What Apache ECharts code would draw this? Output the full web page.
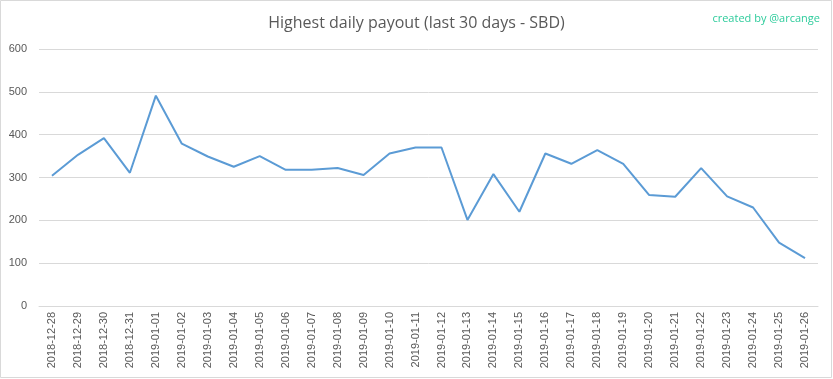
<!DOCTYPE html>
<html><head><meta charset="utf-8">
<script src="https://cdn.jsdelivr.net/npm/echarts@6/dist/echarts.min.js"></script>
<style>html,body{margin:0;padding:0;background:#fff}#c{width:833px;height:379px;box-sizing:border-box;}</style>
</head><body><div id="c"></div>
<script>
const categories = ["2018-12-28","2018-12-29","2018-12-30","2018-12-31","2019-01-01","2019-01-02","2019-01-03","2019-01-04","2019-01-05","2019-01-06","2019-01-07","2019-01-08","2019-01-09","2019-01-10","2019-01-11","2019-01-12","2019-01-13","2019-01-14","2019-01-15","2019-01-16","2019-01-17","2019-01-18","2019-01-19","2019-01-20","2019-01-21","2019-01-22","2019-01-23","2019-01-24","2019-01-25","2019-01-26"];
const payout = [304,353,392,311,491,379,349,325,350,318,318,322,306,356,370,370,201,308,220,356,332,364,332,259,255,322,256,230,148,112];
const titleText = "Highest daily payout (last 30 days - SBD)";
const creditText = "created by @arcange";

const chart = echarts.init(document.getElementById('c'), null, {renderer:'canvas'});
chart.setOption({
  animation:false,
  backgroundColor:'#fff',
  title:[
    {text:titleText,left:'center',top:10,textStyle:{fontFamily:'Open Sans',fontSize:16,fontWeight:'normal',color:'#595959'}},
    {text:creditText,right:8,top:8,textStyle:{fontFamily:'Open Sans',fontSize:11,fontWeight:'normal',color:'#2ecc9c'}}
  ],
  graphic:[{type:'rect',shape:{x:0.5,y:0.5,width:831,height:377},style:{fill:'none',stroke:'#d9d9d9',lineWidth:1},silent:true}],
  grid:{left:39,right:15,top:49,bottom:73},
  xAxis:{type:'category',data:categories,boundaryGap:true,
    axisLine:{lineStyle:{color:'#d9d9d9'}},axisTick:{show:false},
    axisLabel:{rotate:90,color:'#595959',fontFamily:'Liberation Sans',fontSize:11,margin:6,interval:0}},
  yAxis:{type:'value',min:0,max:600,interval:100,
    axisLine:{show:false},axisTick:{show:false},
    splitLine:{lineStyle:{color:'#d9d9d9'}},
    axisLabel:{color:'#595959',fontFamily:'Liberation Sans',fontSize:11,margin:12}},
  series:[{type:'line',data:payout,symbol:'none',lineStyle:{color:'#5b9bd5',width:2}}]
});
</script></body></html>
